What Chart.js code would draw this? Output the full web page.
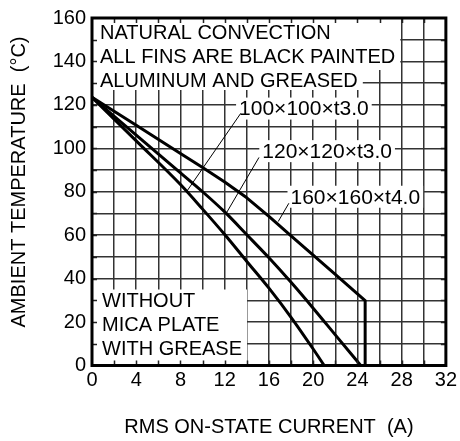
<!DOCTYPE html>
<html><head><meta charset="utf-8">
<script src="https://cdn.jsdelivr.net/npm/chart.js@4"></script>
<style>html,body{margin:0;padding:0;background:#fff}</style>
</head><body>
<canvas id="c" width="460" height="441"></canvas>
<script>
// ---- data ----
const xLabelTicks = [0, 4, 8, 12, 16, 20, 24, 28, 32];
const yLabelTicks = [0, 20, 40, 60, 80, 100, 120, 140, 160];

const s100X = [0, 4, 8, 10, 12, 14, 16, 18, 20, 21];
const s100Y = [123.5, 103.4, 83.3, 72.0, 60.3, 47.9, 35.6, 22.2, 7.6, 0];
const s120X = [0, 4, 8, 10, 12, 14, 16, 18, 20, 22, 24.3];
const s120Y = [123.5, 106.1, 88.7, 80, 70.7, 60.2, 49.6, 38.3, 26.4, 14.1, 0];
const s160X = [0, 4, 8, 10, 12, 14, 16, 18, 20, 22, 24.7, 24.7];
const s160Y = [123.5, 110.6, 97.6, 91.2, 84.5, 77.2, 68.7, 59.7, 50.8, 42, 29.9, 0];

const seriesNames = ['100×100×t3.0', '120×120×t3.0', '160×160×t4.0'];
const labelPosX = [13.3, 15.4, 17.95];
const labelPosY = [118.3, 98.7, 77.7];
const leaderFromX = [13.45, 15.1, 17.8];
const leaderFromY = [116.1, 95.8, 74.7];
const leaderToX = [8.57, 12.16, 16.84];
const leaderToY = [80.2, 70.3, 66.3];

const noteTop = ['NATURAL CONVECTION', 'ALL FINS ARE BLACK PAINTED', 'ALUMINUM AND GREASED'];
const noteBottom = ['WITHOUT', 'MICA PLATE', 'WITH GREASE'];
const xTitle = 'RMS ON-STATE CURRENT  (A)';
const yTitle = 'AMBIENT TEMPERATURE  (°C)';

const FONT = "'Liberation Sans', Arial, sans-serif";
const pts = (xs, ys) => xs.map((x, i) => ({x, y: ys[i]}));

const overlay = {
  id: 'overlay',
  beforeDatasetsDraw(chart) {
    const {ctx, chartArea: a, scales: {x, y}} = chart;
    ctx.save();
    ctx.font = '20px ' + FONT;
    ctx.fillStyle = '#fff';
    const w01 = Math.max(ctx.measureText(noteTop[0]).width, ctx.measureText(noteTop[1]).width);
    const w2 = ctx.measureText(noteTop[2]).width;
    ctx.fillRect(a.left + 1, a.top + 1, 8 + w01 + 4, 51);
    ctx.fillRect(a.left + 1, a.top + 50, 8 + w2 + 4, 22);
    const wb = Math.max(...noteBottom.map(t => ctx.measureText(t).width));
    ctx.fillRect(a.left + 1, a.bottom - 76, 10 + wb + 4, 75);
    ctx.font = '21px ' + FONT;
    seriesNames.forEach((t, i) => {
      const px = x.getPixelForValue(labelPosX[i]);
      const py = y.getPixelForValue(labelPosY[i]);
      const w = ctx.measureText(t).width;
      ctx.fillRect(px - 3, py - 11, w + 6, 22);
    });
    ctx.restore();
  },
  afterDatasetsDraw(chart) {
    const {ctx, chartArea: a, scales: {x, y}} = chart;
    ctx.save();
    ctx.fillStyle = '#000';
    ctx.textBaseline = 'middle';
    ctx.textAlign = 'left';
    ctx.font = '20px ' + FONT;
    noteTop.forEach((t, i) => ctx.fillText(t, a.left + 8, a.top + 15 + i * 24));
    noteBottom.forEach((t, i) => ctx.fillText(t, a.left + 10, a.bottom - 64 + i * 23.8));
    ctx.font = '21px ' + FONT;
    seriesNames.forEach((t, i) => {
      ctx.fillText(t, x.getPixelForValue(labelPosX[i]), y.getPixelForValue(labelPosY[i]) + 1);
    });
    ctx.strokeStyle = '#000';
    ctx.lineWidth = 1;
    seriesNames.forEach((t, i) => {
      ctx.beginPath();
      ctx.moveTo(x.getPixelForValue(leaderFromX[i]), y.getPixelForValue(leaderFromY[i]));
      ctx.lineTo(x.getPixelForValue(leaderToX[i]), y.getPixelForValue(leaderToY[i]));
      ctx.stroke();
    });
    ctx.lineWidth = 1.5;
    ctx.strokeStyle = '#222';
    for (let v = 2; v < 32; v += 2) {
      const px = Math.round(x.getPixelForValue(v)) + 0.5;
      ctx.beginPath();
      ctx.moveTo(px, a.bottom); ctx.lineTo(px, a.bottom - 5);
      ctx.moveTo(px, a.top); ctx.lineTo(px, a.top + 5);
      ctx.stroke();
    }
    for (let v = 10; v < 160; v += 10) {
      const py = Math.round(y.getPixelForValue(v)) + 0.5;
      ctx.beginPath();
      ctx.moveTo(a.left, py); ctx.lineTo(a.left + 5, py);
      ctx.moveTo(a.right, py); ctx.lineTo(a.right - 5, py);
      ctx.stroke();
    }
    ctx.lineWidth = 3;
    ctx.strokeStyle = '#000';
    ctx.strokeRect(a.left, a.top, a.right - a.left, a.bottom - a.top);
    ctx.font = '20px ' + FONT;
    ctx.textAlign = 'center';
    ctx.translate(19, 182);
    ctx.rotate(-Math.PI / 2);
    ctx.fillText(yTitle, 0, 0);
    ctx.restore();
  }
};

const lineStyle = {borderColor: '#000', borderWidth: 3, pointRadius: 0, fill: false, borderJoinStyle: 'round'};

new Chart(document.getElementById('c'), {
  type: 'line',
  data: {
    datasets: [
      {label: seriesNames[0], data: pts(s100X, s100Y), ...lineStyle, cubicInterpolationMode: 'monotone'},
      {label: seriesNames[1], data: pts(s120X, s120Y), ...lineStyle, cubicInterpolationMode: 'monotone'},
      {label: seriesNames[2], data: pts(s160X, s160Y), ...lineStyle, tension: 0}
    ]
  },
  options: {
    responsive: false,
    animation: false,
    devicePixelRatio: 1,
    layout: {padding: {left: 0, right: 12, top: 11, bottom: 0}},
    plugins: {legend: {display: false}, tooltip: {enabled: false}},
    scales: {
      x: {
        type: 'linear', min: 0, max: 32,
        afterFit: s => { s.height = 75.5; },
        ticks: {
          stepSize: 2, autoSkip: false, maxRotation: 0, padding: 3,
          color: '#000', font: {family: FONT, size: 20},
          callback: v => xLabelTicks.includes(v) ? String(v) : ''
        },
        grid: {color: '#333', lineWidth: 1.5, drawTicks: false},
        border: {display: false},
        title: {display: true, text: xTitle, color: '#000', font: {family: FONT, size: 20}, padding: {top: 0, bottom: 2}}
      },
      y: {
        type: 'linear', min: 0, max: 160,
        afterFit: s => { s.width = 92; },
        ticks: {
          stepSize: 10, autoSkip: false, padding: 6,
          color: '#000', font: {family: FONT, size: 20},
          callback: v => yLabelTicks.includes(v) ? String(v) : ''
        },
        grid: {color: '#333', lineWidth: 1.5, drawTicks: false},
        border: {display: false}
      }
    }
  },
  plugins: [overlay]
});
</script>
</body></html>
